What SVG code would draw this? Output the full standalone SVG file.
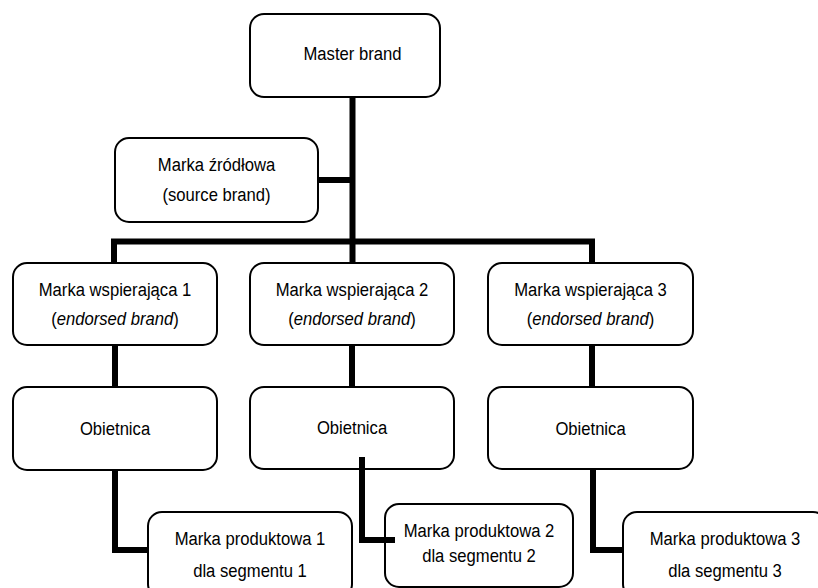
<svg xmlns="http://www.w3.org/2000/svg" width="818" height="588" viewBox="0 0 818 588">
<style>
.box{fill:#fff;stroke:#000;stroke-width:2}
.t{font-family:"Liberation Sans",Arial,sans-serif;font-size:18.5px;fill:#000;text-anchor:middle}
.i{font-style:italic}
.c{fill:none;stroke:#000;stroke-width:6;stroke-linecap:butt;stroke-linejoin:miter}
</style>
<rect width="818" height="588" fill="#fff"/>
<g id="master"><rect class="box" x="250" y="14" width="190" height="83" rx="14"/><text class="t" transform="translate(352.5,60) scale(0.9,1)">Master brand</text></g>
<g id="source"><rect class="box" x="115" y="138" width="203" height="84" rx="14"/><text class="t" transform="translate(216.5,171) scale(0.9,1)">Marka źródłowa</text><text class="t" transform="translate(216.5,201) scale(0.9,1)">(source brand)</text></g>
<g id="endorsed1"><rect class="box" x="13" y="263" width="204" height="82" rx="14"/><text class="t" transform="translate(115,296) scale(0.9,1)">Marka wspierająca 1</text><text class="t" transform="translate(115,325) scale(0.9,1)">(<tspan class="i">endorsed brand</tspan>)</text></g>
<g id="endorsed2"><rect class="box" x="250" y="263" width="204" height="82" rx="14"/><text class="t" transform="translate(352,296) scale(0.9,1)">Marka wspierająca 2</text><text class="t" transform="translate(352,325) scale(0.9,1)">(<tspan class="i">endorsed brand</tspan>)</text></g>
<g id="endorsed3"><rect class="box" x="488" y="263" width="205" height="82" rx="14"/><text class="t" transform="translate(590.5,296) scale(0.9,1)">Marka wspierająca 3</text><text class="t" transform="translate(590.5,325) scale(0.9,1)">(<tspan class="i">endorsed brand</tspan>)</text></g>
<g id="promise1"><rect class="box" x="13" y="387" width="204" height="83" rx="14"/><text class="t" transform="translate(115,435) scale(0.9,1)">Obietnica</text></g>
<g id="promise2"><rect class="box" x="250" y="387" width="204" height="82" rx="14"/><text class="t" transform="translate(352,434) scale(0.9,1)">Obietnica</text></g>
<g id="promise3"><rect class="box" x="488" y="387" width="205" height="82" rx="14"/><text class="t" transform="translate(590.5,435) scale(0.9,1)">Obietnica</text></g>
<g id="product1"><rect class="box" x="148" y="512" width="204" height="86" rx="14"/><text class="t" transform="translate(250,545) scale(0.9,1)">Marka produktowa 1</text><text class="t" transform="translate(250,577) scale(0.9,1)">dla segmentu 1</text></g>
<g id="product2"><rect class="box" x="385" y="504" width="188" height="83" rx="14"/><text class="t" transform="translate(479,537) scale(0.9,1)">Marka produktowa 2</text><text class="t" transform="translate(479,562) scale(0.9,1)">dla segmentu 2</text></g>
<g id="product3"><rect class="box" x="623" y="512" width="204" height="86" rx="14"/><text class="t" transform="translate(725,545) scale(0.9,1)">Marka produktowa 3</text><text class="t" transform="translate(725,577) scale(0.9,1)">dla segmentu 3</text></g>
<g id="connectors">
<path class="c" d="M352.5,97 V263"/>
<path class="c" d="M318,180 H352.5"/>
<path class="c" d="M114,263 V241.5 H592 V263"/>
<path class="c" d="M115,345 V387"/>
<path class="c" d="M352,345 V387"/>
<path class="c" d="M592,345 V387"/>
<path class="c" d="M115,470 V550 H148"/>
<path class="c" d="M362,457 V540 H395"/>
<path class="c" d="M593,469 V550 H623"/>
</g>
</svg>
